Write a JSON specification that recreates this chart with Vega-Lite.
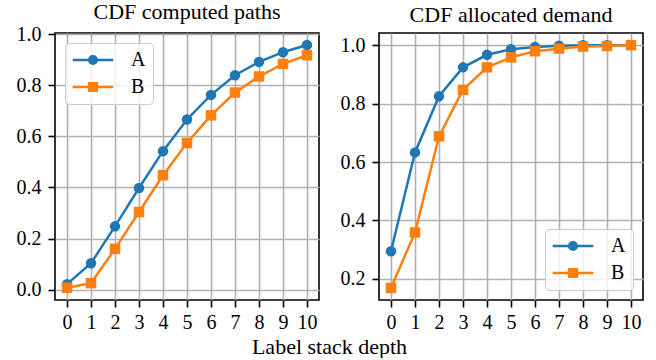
{
  "$schema": "https://vega.github.io/schema/vega-lite/v6.json",
  "background": "white",
  "padding": {"left": 15, "top": 0, "right": 5, "bottom": 0},
  "autosize": {"type": "pad"},
  "bounds": "flush",
  "spacing": 60,
  "config": {
    "font": "Liberation Serif",
    "view": {"stroke": "black", "strokeWidth": 1.6},
    "axis": {
      "grid": true, "gridColor": "#b0b0b0", "gridWidth": 1.6, "gridOpacity": 1,
      "domain": false, "ticks": true, "tickColor": "black", "tickWidth": 1.6, "tickSize": 7,
      "labelFont": "Liberation Serif", "labelFontSize": 20, "labelColor": "black",
      "title": null
    },
    "axisX": {"labelPadding": 5},
    "axisY": {"labelPadding": 7},
    "legend": {
      "title": null, "offset": 10, "padding": 7,
      "fillColor": "rgba(255,255,255,0.8)", "strokeColor": "#cccccc", "cornerRadius": 4,
      "labelFont": "Liberation Serif", "labelFontSize": 20, "labelColor": "black",
      "symbolSize": 196, "symbolOffset": 11, "labelOffset": 28, "rowPadding": 7, "symbolStrokeWidth": 2.5
    },
    "title": {"font": "Liberation Serif", "fontWeight": "normal", "color": "black", "fontSize": 22}
  },
  "title": {"text": "Label stack depth", "orient": "bottom", "anchor": "middle", "fontSize": 22, "offset": 4},
  "datasets": {
    "paths": [
      {"depth": 0, "series": "A", "cdf": 0.022}, {"depth": 1, "series": "A", "cdf": 0.104}, {"depth": 2, "series": "A", "cdf": 0.248},
      {"depth": 3, "series": "A", "cdf": 0.398}, {"depth": 4, "series": "A", "cdf": 0.542}, {"depth": 5, "series": "A", "cdf": 0.666},
      {"depth": 6, "series": "A", "cdf": 0.762}, {"depth": 7, "series": "A", "cdf": 0.839}, {"depth": 8, "series": "A", "cdf": 0.891},
      {"depth": 9, "series": "A", "cdf": 0.929}, {"depth": 10, "series": "A", "cdf": 0.957},
      {"depth": 0, "series": "B", "cdf": 0.008}, {"depth": 1, "series": "B", "cdf": 0.026}, {"depth": 2, "series": "B", "cdf": 0.160},
      {"depth": 3, "series": "B", "cdf": 0.304}, {"depth": 4, "series": "B", "cdf": 0.448}, {"depth": 5, "series": "B", "cdf": 0.574},
      {"depth": 6, "series": "B", "cdf": 0.682}, {"depth": 7, "series": "B", "cdf": 0.771}, {"depth": 8, "series": "B", "cdf": 0.834},
      {"depth": 9, "series": "B", "cdf": 0.883}, {"depth": 10, "series": "B", "cdf": 0.917}
    ],
    "demand": [
      {"depth": 0, "series": "A", "cdf": 0.295}, {"depth": 1, "series": "A", "cdf": 0.633}, {"depth": 2, "series": "A", "cdf": 0.825},
      {"depth": 3, "series": "A", "cdf": 0.924}, {"depth": 4, "series": "A", "cdf": 0.967}, {"depth": 5, "series": "A", "cdf": 0.986},
      {"depth": 6, "series": "A", "cdf": 0.994}, {"depth": 7, "series": "A", "cdf": 0.998}, {"depth": 8, "series": "A", "cdf": 1.0},
      {"depth": 9, "series": "A", "cdf": 1.0}, {"depth": 10, "series": "A", "cdf": 1.0},
      {"depth": 0, "series": "B", "cdf": 0.169}, {"depth": 1, "series": "B", "cdf": 0.359}, {"depth": 2, "series": "B", "cdf": 0.688},
      {"depth": 3, "series": "B", "cdf": 0.847}, {"depth": 4, "series": "B", "cdf": 0.924}, {"depth": 5, "series": "B", "cdf": 0.958},
      {"depth": 6, "series": "B", "cdf": 0.979}, {"depth": 7, "series": "B", "cdf": 0.988}, {"depth": 8, "series": "B", "cdf": 0.995},
      {"depth": 9, "series": "B", "cdf": 0.997}, {"depth": 10, "series": "B", "cdf": 1.0}
    ]
  },
  "hconcat": [
    {
      "title": {"text": "CDF computed paths", "offset": 0, "frame": "group"},
      "width": 264, "height": 267,
      "data": {"name": "paths"},
      "encoding": {
        "x": {"field": "depth", "type": "quantitative", "scale": {"domain": [-0.5, 10.5], "nice": false, "zero": false},
              "axis": {"values": [0,1,2,3,4,5,6,7,8,9,10], "format": "d", "labelFont": "Liberation Serif"}},
        "y": {"field": "cdf", "type": "quantitative", "scale": {"domain": [-0.04, 1.004], "nice": false, "zero": false},
              "axis": {"values": [0, 0.2, 0.4, 0.6, 0.8, 1.0], "format": ".1f", "labelFont": "Liberation Serif"}},
        "color": {"field": "series", "type": "nominal", "scale": {"domain": ["A", "B"], "range": ["#1f77b4", "#ff7f0e"]},
          "legend": {
            "orient": "top-left",
            "encode": {"symbols": {"update": {
              "shape": {"signal": "datum.value === 'A' ? 'M-2.9,0L2.9,0M0.55,0A0.55,0.55,0,1,1,-0.55,0A0.55,0.55,0,1,1,0.55,0Z' : 'M-2.9,0L2.9,0M-0.55,-0.55L0.55,-0.55L0.55,0.55L-0.55,0.55Z'"},
              "fill": {"signal": "datum.value === 'A' ? '#1f77b4' : '#ff7f0e'"},
              "stroke": {"signal": "datum.value === 'A' ? '#1f77b4' : '#ff7f0e'"},
              "opacity": {"value": 1}, "fillOpacity": {"value": 1}, "strokeOpacity": {"value": 1}
            }}}
          }}
      },
      "layer": [
        {"transform": [{"filter": "datum.series === 'A'"}], "mark": {"type": "line", "strokeWidth": 2.5}},
        {"transform": [{"filter": "datum.series === 'A'"}], "mark": {"type": "point", "shape": "circle", "filled": true, "size": 110, "opacity": 1}},
        {"transform": [{"filter": "datum.series === 'B'"}], "mark": {"type": "line", "strokeWidth": 2.5}},
        {"transform": [{"filter": "datum.series === 'B'"}], "mark": {"type": "point", "shape": "square", "filled": true, "size": 110, "opacity": 1}}
      ]
    },
    {
      "title": {"text": "CDF allocated demand", "offset": 6, "frame": "group"},
      "width": 264, "height": 267,
      "data": {"name": "demand"},
      "encoding": {
        "x": {"field": "depth", "type": "quantitative", "scale": {"domain": [-0.5, 10.5], "nice": false, "zero": false},
              "axis": {"values": [0,1,2,3,4,5,6,7,8,9,10], "format": "d", "labelFont": "Liberation Serif"}},
        "y": {"field": "cdf", "type": "quantitative", "scale": {"domain": [0.128, 1.0415], "nice": false, "zero": false},
              "axis": {"values": [0.2, 0.4, 0.6, 0.8, 1.0], "format": ".1f", "labelFont": "Liberation Serif"}},
        "color": {"field": "series", "type": "nominal", "scale": {"domain": ["A", "B"], "range": ["#1f77b4", "#ff7f0e"]},
          "legend": {
            "orient": "bottom-right",
            "encode": {"symbols": {"update": {
              "shape": {"signal": "datum.value === 'A' ? 'M-2.9,0L2.9,0M0.55,0A0.55,0.55,0,1,1,-0.55,0A0.55,0.55,0,1,1,0.55,0Z' : 'M-2.9,0L2.9,0M-0.55,-0.55L0.55,-0.55L0.55,0.55L-0.55,0.55Z'"},
              "fill": {"signal": "datum.value === 'A' ? '#1f77b4' : '#ff7f0e'"},
              "stroke": {"signal": "datum.value === 'A' ? '#1f77b4' : '#ff7f0e'"},
              "opacity": {"value": 1}, "fillOpacity": {"value": 1}, "strokeOpacity": {"value": 1}
            }}}
          }}
      },
      "layer": [
        {"transform": [{"filter": "datum.series === 'A'"}], "mark": {"type": "line", "strokeWidth": 2.5}},
        {"transform": [{"filter": "datum.series === 'A'"}], "mark": {"type": "point", "shape": "circle", "filled": true, "size": 110, "opacity": 1}},
        {"transform": [{"filter": "datum.series === 'B'"}], "mark": {"type": "line", "strokeWidth": 2.5}},
        {"transform": [{"filter": "datum.series === 'B'"}], "mark": {"type": "point", "shape": "square", "filled": true, "size": 110, "opacity": 1}}
      ]
    }
  ],
  "resolve": {"scale": {"x": "independent", "y": "independent", "color": "independent"}, "legend": {"color": "independent"}}
}
